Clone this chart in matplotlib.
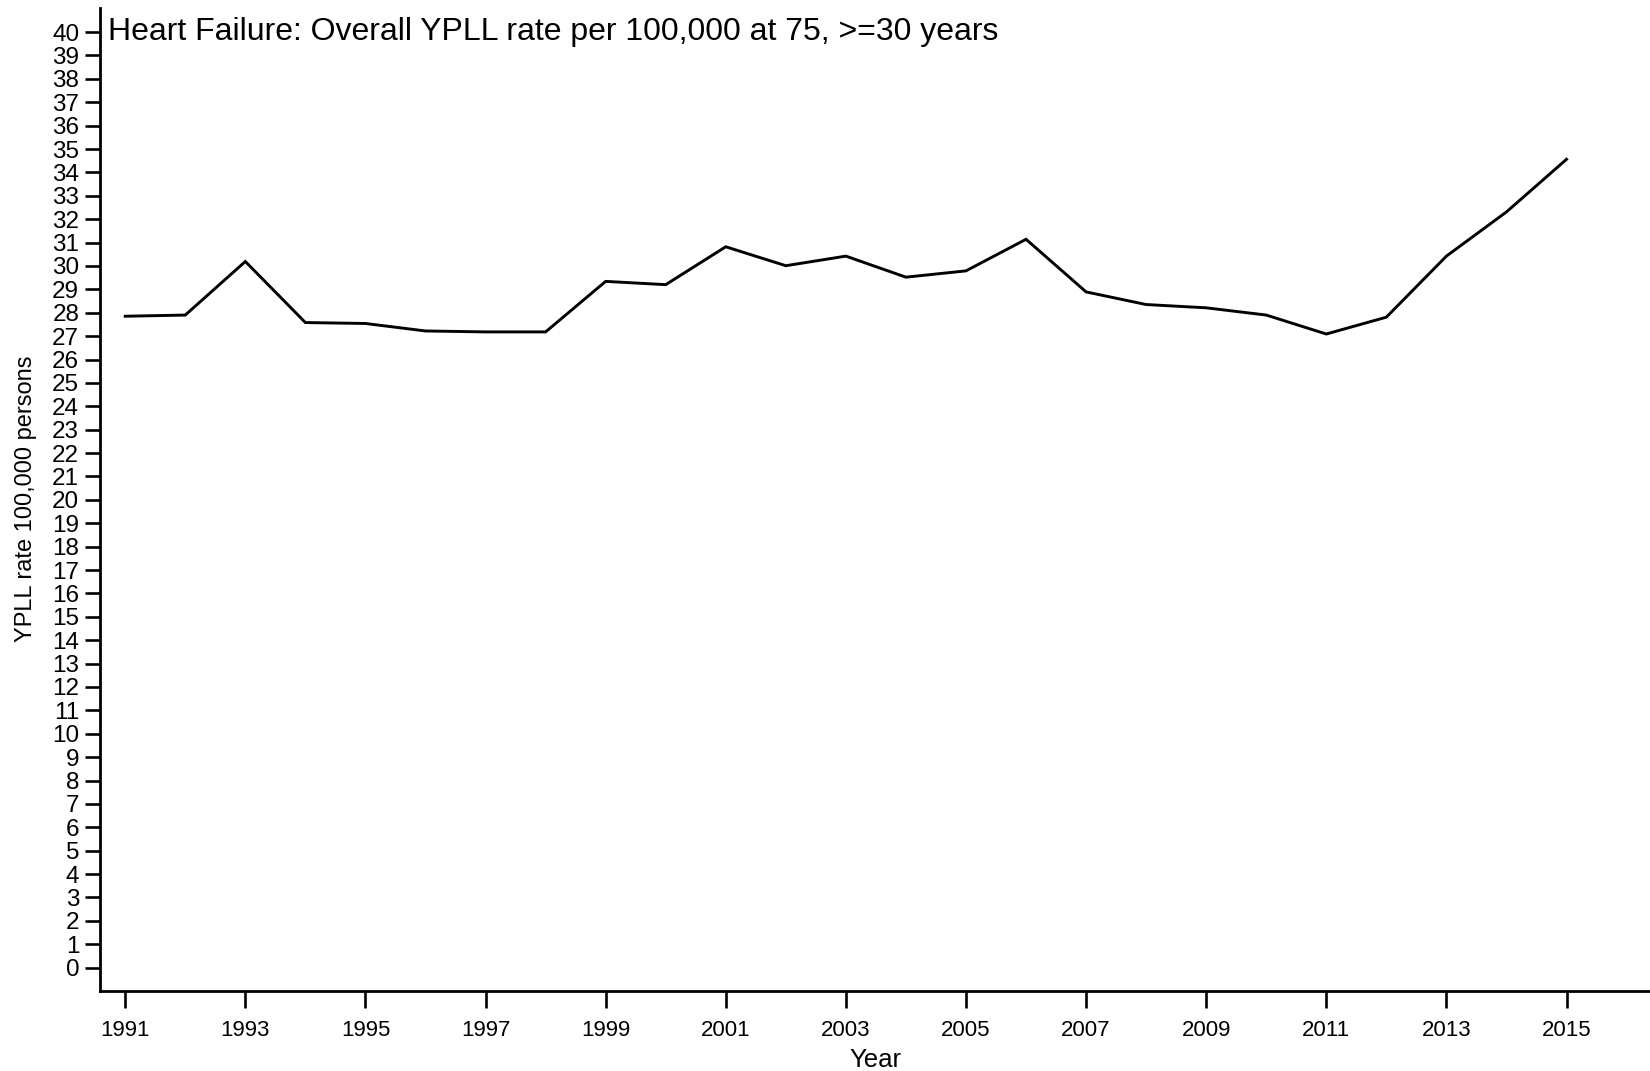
import matplotlib
matplotlib.use("Agg")
import matplotlib.pyplot as plt

years = list(range(1991, 2016))
ypll_rate = [27.85, 27.90, 30.19, 27.58, 27.54, 27.22, 27.18, 27.18, 29.34, 29.20,
             30.82, 30.01, 30.42, 29.52, 29.79, 31.14, 28.89, 28.35, 28.21, 27.90,
             27.09, 27.81, 30.42, 32.31, 34.56]
x_ticks = list(range(1991, 2016, 2))
y_ticks = list(range(0, 41))

title = "Heart Failure: Overall YPLL rate per 100,000 at 75, >=30 years"

plt.rcParams['font.family'] = ['Liberation Sans', 'DejaVu Sans']

fig = plt.figure(figsize=(16.5, 10.71), dpi=100)
ax = fig.add_axes([100 / 1650, 80 / 1071, 1550 / 1650, (991 - 7.5) / 1071])

ax.plot(years, ypll_rate, color='black', linewidth=2.1, solid_joinstyle='miter')

ax.set_xlim(1990.58, 2016.39)
ax.set_ylim(-1.0, 41.05)
ax.set_xticks(x_ticks)
ax.set_yticks(y_ticks)
ax.set_yticklabels([str(v) for v in y_ticks])

for side in ('top', 'right'):
    ax.spines[side].set_visible(False)
for side in ('left', 'bottom'):
    ax.spines[side].set_linewidth(2.0)

ax.tick_params(axis='y', length=11, width=1.9, labelsize=17.5, pad=4)
ax.tick_params(axis='x', length=12, width=1.9, labelsize=16, pad=9)

ax.set_ylabel("YPLL rate 100,000 persons", fontsize=17, labelpad=11)
ax.set_xlabel("Year", fontsize=18.5, labelpad=5)

fig.text(108 / 1650, 1 - 40 / 1071, title, ha='left', va='baseline', fontsize=23)

fig.savefig("out.png", dpi=100)
